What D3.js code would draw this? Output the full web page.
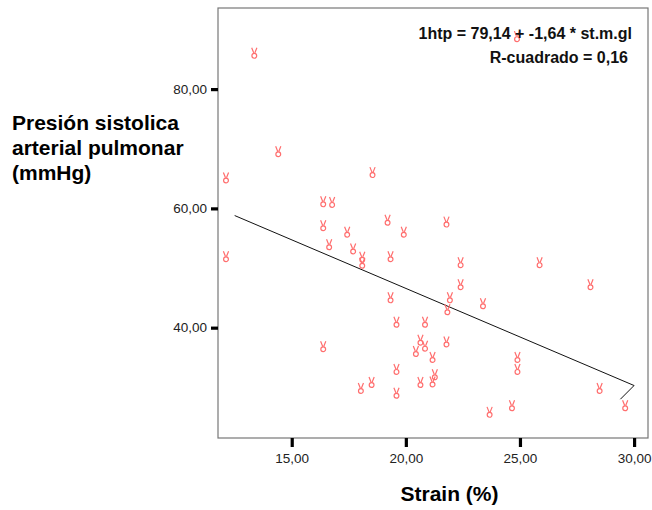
<!DOCTYPE html>
<html>
<head>
    <script type="text/javascript" src="https://d3js.org/d3.v7.min.js"></script>
    <style>
        body { margin: 0; background: white; }
        text { font-family: Arial, "Liberation Sans", sans-serif; }
    </style>
</head>
<body>
    <div id="chart"></div>
    <script type="text/javascript">
        // data
        const strain = [13.36, 14.41, 24.87, 12.12, 18.54, 16.38, 16.77, 12.12, 19.2, 21.78,
            16.38, 17.43, 19.91, 16.64, 17.69, 18.09, 18.09, 19.33, 22.4, 25.86,
            22.4, 28.09, 19.33, 21.93, 23.38, 21.82, 19.59, 20.84, 16.38, 20.64,
            20.84, 20.44, 21.78, 21.17, 24.89, 24.89, 19.59, 21.27, 21.17, 20.64,
            18.5, 18.03, 19.59, 28.49, 24.65, 23.67, 29.61];
        const presion = [86.0, 69.5, 88.8, 65.1, 66.0, 61.1, 61.0, 51.9, 58.0, 57.7,
            57.1, 56.0, 56.0, 53.9, 53.2, 51.8, 50.8, 51.9, 50.9, 50.9,
            47.2, 47.2, 45.0, 45.0, 44.0, 43.0, 40.9, 40.9, 36.8, 37.9,
            36.9, 36.0, 37.6, 35.0, 35.0, 33.0, 33.0, 32.1, 30.9, 30.8,
            30.8, 29.8, 29.0, 29.8, 26.9, 25.8, 26.9];

        // fit line as drawn (including the little hook at the end)
        const fitX = [12.5, 30.0, 29.4];
        const fitY = [58.8, 30.3, 28.0];

        const xTicks = [15, 20, 25, 30];
        const yTicks = [40, 60, 80];
        const yTitle = ["Presión sistolica", "arterial pulmonar", "(mmHg)"];
        const xTitle = "Strain (%)";
        const eqLines = ["1htp = 79,14 + -1,64 * st.m.gl", "R-cuadrado = 0,16"];

        const W = 652, H = 510;
        const pLeft = 218, pRight = 648, pTop = 8, pBottom = 438;

        const svg = d3.select("#chart").append("svg")
            .attr("width", W).attr("height", H);

        const x = d3.scaleLinear().domain([11.77, 30.61]).range([pLeft, pRight]);
        const y = d3.scaleLinear().domain([21.5, 93.6]).range([pBottom, pTop]);

        const fmt = d => d.toFixed(2).replace(".", ",");

        // frame
        svg.append("rect")
            .attr("x", pLeft).attr("y", pTop)
            .attr("width", pRight - pLeft).attr("height", pBottom - pTop)
            .attr("fill", "none").attr("stroke", "#777").attr("stroke-width", 1.2);

        // axes
        const xAxis = svg.append("g")
            .attr("transform", `translate(0,${pBottom})`)
            .call(d3.axisBottom(x).tickValues(xTicks).tickSize(9).tickPadding(6).tickFormat(fmt));
        xAxis.select(".domain").remove();
        xAxis.selectAll("line").attr("stroke", "#000").attr("stroke-width", 3.2);
        xAxis.selectAll("text").attr("font-size", 13.5).attr("fill", "#222");

        const yAxis = svg.append("g")
            .attr("transform", `translate(${pLeft},0)`)
            .call(d3.axisLeft(y).tickValues(yTicks).tickSize(7).tickPadding(4).tickFormat(fmt));
        yAxis.select(".domain").remove();
        yAxis.selectAll("line").attr("stroke", "#000").attr("stroke-width", 3.2);
        yAxis.selectAll("text").attr("font-size", 13.5).attr("fill", "#222");

        // fit line
        const fit = fitX.map((v, i) => [v, fitY[i]]);
        svg.append("path")
            .attr("d", d3.line().x(d => x(d[0])).y(d => y(d[1]))(fit))
            .attr("fill", "none").attr("stroke", "#111").attr("stroke-width", 1);

        // markers
        const pts = strain.map((v, i) => [v, presion[i]]);
        const marker = "M-2.6,-5.5 L-0.6,-0.5 M2.6,-5.5 L0.6,-0.5 M2.4,2.5 A2.4,2.4 0 1 1 -2.4,2.5 A2.4,2.4 0 1 1 2.4,2.5";
        svg.append("g").selectAll("path")
            .data(pts)
            .enter()
            .append("path")
            .attr("transform", d => `translate(${x(d[0])},${y(d[1])})`)
            .attr("d", marker)
            .attr("fill", "none")
            .attr("stroke", "rgb(255,110,110)")
            .attr("stroke-width", 1.2);

        // equation text
        svg.selectAll("text.eq")
            .data(eqLines)
            .enter()
            .append("text")
            .attr("class", "eq")
            .attr("x", (d, i) => i === 0 ? 632 : 628)
            .attr("y", (d, i) => 39 + i * 24)
            .attr("text-anchor", "end")
            .attr("font-size", 16)
            .attr("font-weight", "bold")
            .attr("fill", "#111")
            .text(d => d);

        // axis titles
        svg.selectAll("text.ytitle")
            .data(yTitle)
            .enter()
            .append("text")
            .attr("class", "ytitle")
            .attr("x", 12)
            .attr("y", (d, i) => 130 + i * 25)
            .attr("font-size", 21)
            .attr("font-weight", "bold")
            .attr("fill", "#000")
            .text(d => d);

        svg.append("text")
            .attr("x", 449.5).attr("y", 501)
            .attr("text-anchor", "middle")
            .attr("font-size", 21)
            .attr("font-weight", "bold")
            .attr("fill", "#000")
            .text(xTitle);
    </script>
</body>
</html>
